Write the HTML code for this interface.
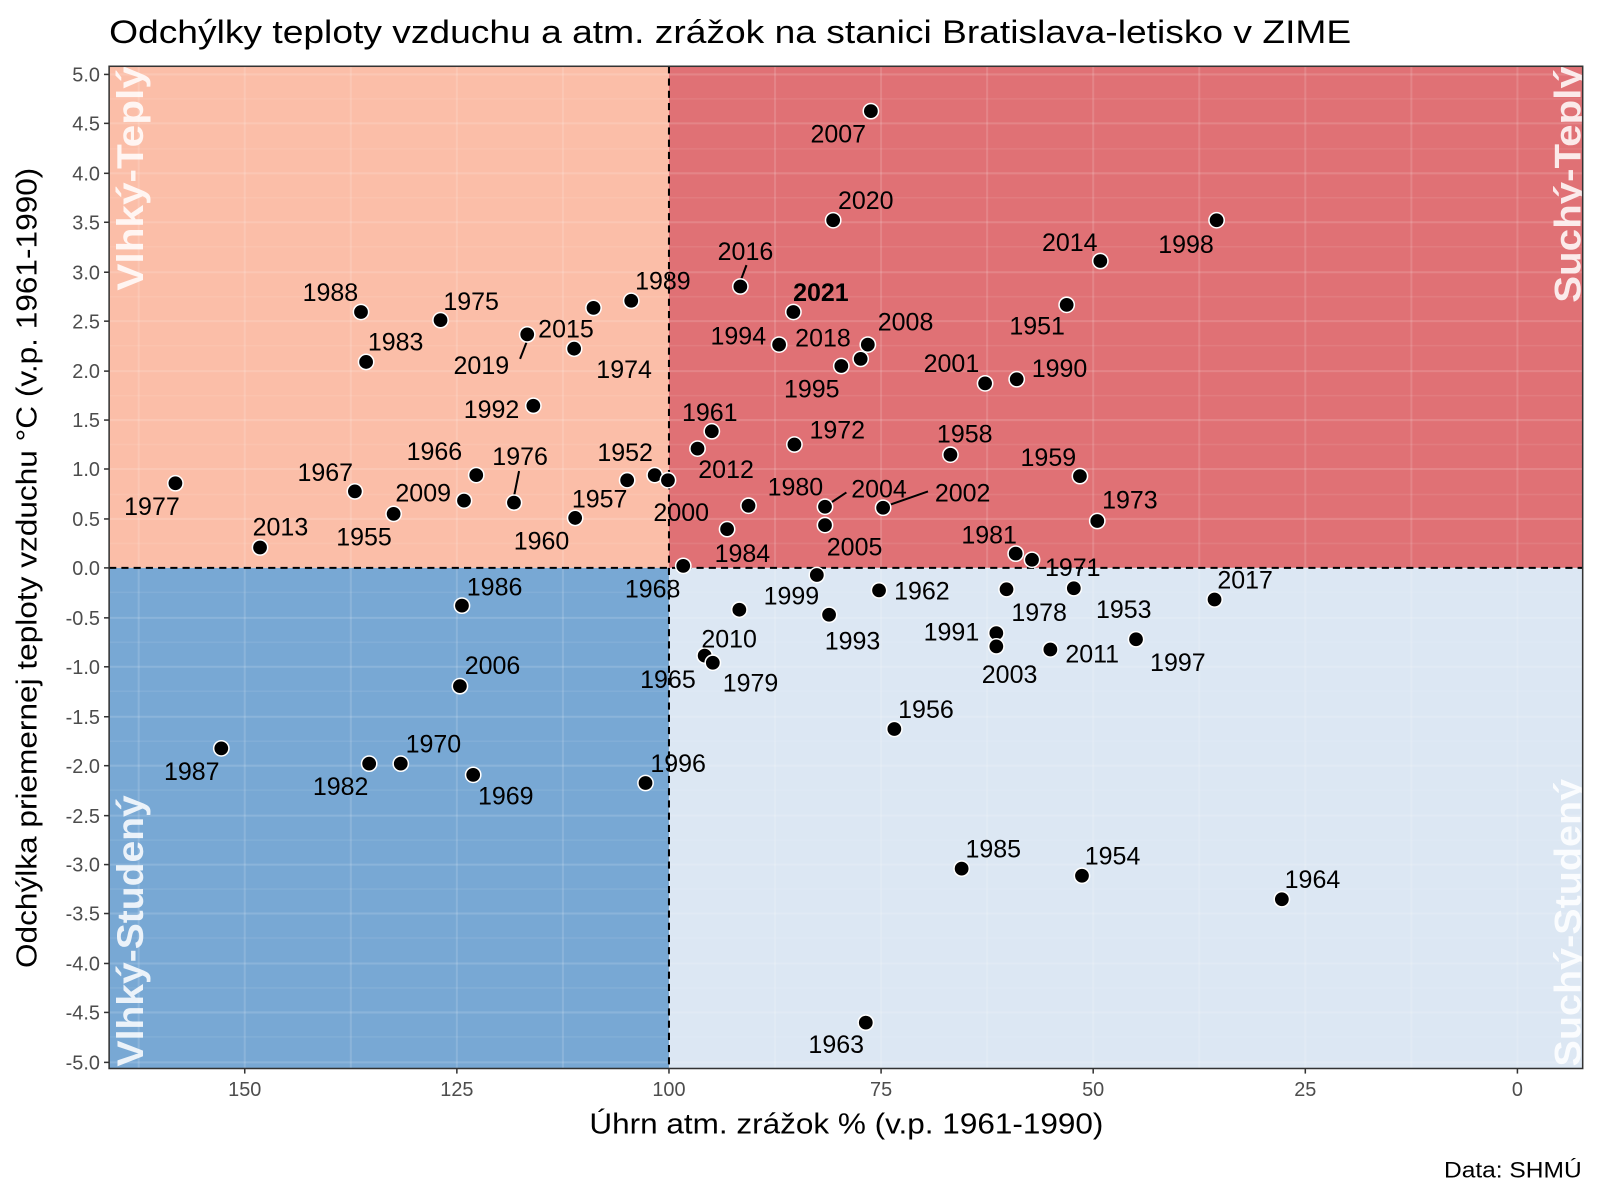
<!DOCTYPE html>
<html><head><meta charset="utf-8"><style>
html,body{margin:0;padding:0;background:#fff;}
svg{display:block;font-family:"Liberation Sans",Arial,sans-serif;}
</style></head><body>
<svg width="1599" height="1199" viewBox="0 0 1568 1176" preserveAspectRatio="none" xmlns="http://www.w3.org/2000/svg">
<rect width="1568" height="1176" fill="#fff"/>
<text x="107" y="42" font-size="31.5" fill="#000" textLength="1218" lengthAdjust="spacingAndGlyphs">Odchýlky teploty vzduchu a atm. zrážok na stanici Bratislava-letisko v ZIME</text>
<rect x="107" y="65" width="549" height="492" fill="#fbbea8"/>
<rect x="656" y="65" width="896" height="492" fill="#e07175"/>
<rect x="107" y="557" width="549" height="491" fill="#78a8d4"/>
<rect x="656" y="557" width="896" height="491" fill="#dce7f3"/>
<g stroke="#fff" stroke-opacity="0.08" stroke-width="1.5">
<line x1="107" x2="1552" y1="97" y2="97"/><line x1="107" x2="1552" y1="146" y2="146"/><line x1="107" x2="1552" y1="194" y2="194"/><line x1="107" x2="1552" y1="242" y2="242"/><line x1="107" x2="1552" y1="291" y2="291"/><line x1="107" x2="1552" y1="339" y2="339"/><line x1="107" x2="1552" y1="388" y2="388"/><line x1="107" x2="1552" y1="436" y2="436"/><line x1="107" x2="1552" y1="485" y2="485"/><line x1="107" x2="1552" y1="533" y2="533"/><line x1="107" x2="1552" y1="581" y2="581"/><line x1="107" x2="1552" y1="630" y2="630"/><line x1="107" x2="1552" y1="678" y2="678"/><line x1="107" x2="1552" y1="727" y2="727"/><line x1="107" x2="1552" y1="775" y2="775"/><line x1="107" x2="1552" y1="824" y2="824"/><line x1="107" x2="1552" y1="872" y2="872"/><line x1="107" x2="1552" y1="920" y2="920"/><line x1="107" x2="1552" y1="969" y2="969"/><line x1="107" x2="1552" y1="1017" y2="1017"/>
</g>
<g stroke="#fff" stroke-opacity="0.14" stroke-width="2">
<line x1="107" x2="1552" y1="73" y2="73"/><line x1="107" x2="1552" y1="121" y2="121"/><line x1="107" x2="1552" y1="170" y2="170"/><line x1="107" x2="1552" y1="218" y2="218"/><line x1="107" x2="1552" y1="267" y2="267"/><line x1="107" x2="1552" y1="315" y2="315"/><line x1="107" x2="1552" y1="364" y2="364"/><line x1="107" x2="1552" y1="412" y2="412"/><line x1="107" x2="1552" y1="460" y2="460"/><line x1="107" x2="1552" y1="509" y2="509"/><line x1="107" x2="1552" y1="606" y2="606"/><line x1="107" x2="1552" y1="654" y2="654"/><line x1="107" x2="1552" y1="703" y2="703"/><line x1="107" x2="1552" y1="751" y2="751"/><line x1="107" x2="1552" y1="800" y2="800"/><line x1="107" x2="1552" y1="848" y2="848"/><line x1="107" x2="1552" y1="896" y2="896"/><line x1="107" x2="1552" y1="945" y2="945"/><line x1="107" x2="1552" y1="993" y2="993"/><line x1="107" x2="1552" y1="1042" y2="1042"/>
<line y1="65" y2="1048" x1="240" x2="240"/><line y1="65" y2="1048" x1="448" x2="448"/><line y1="65" y2="1048" x1="864" x2="864"/><line y1="65" y2="1048" x1="1072" x2="1072"/><line y1="65" y2="1048" x1="1280" x2="1280"/><line y1="65" y2="1048" x1="1488" x2="1488"/>
<line y1="65" y2="1048" x1="136" x2="136"/><line y1="65" y2="1048" x1="344" x2="344"/><line y1="65" y2="1048" x1="552" x2="552"/><line y1="65" y2="1048" x1="760" x2="760"/><line y1="65" y2="1048" x1="968" x2="968"/><line y1="65" y2="1048" x1="1176" x2="1176"/><line y1="65" y2="1048" x1="1384" x2="1384"/>
</g>
<g fill="#fff" fill-opacity="0.85" font-weight="bold" font-size="36">
<text transform="translate(140,285) rotate(-90)" textLength="220" lengthAdjust="spacingAndGlyphs">Vlhký-Teplý</text>
<text transform="translate(1550,297) rotate(-90)" textLength="232" lengthAdjust="spacingAndGlyphs">Suchý-Teplý</text>
<text transform="translate(140,1046) rotate(-90)" textLength="266" lengthAdjust="spacingAndGlyphs">Vlhký-Studený</text>
<text transform="translate(1550,1046) rotate(-90)" textLength="282" lengthAdjust="spacingAndGlyphs">Suchý-Studený</text>
</g>
<g stroke="#000" stroke-width="2" stroke-dasharray="7,5">
<line x1="656" x2="656" y1="65" y2="1048"/><line x1="107" x2="1552" y1="557" y2="557"/>
</g>
<rect x="107" y="65" width="1445" height="983" fill="none" stroke="#333" stroke-width="1.5"/>
<g stroke="#000" stroke-width="2">
<line x1="726" y1="276" x2="732" y2="260"/><line x1="510" y1="352" x2="517" y2="334"/><line x1="504" y1="487" x2="509" y2="462"/><line x1="815" y1="493" x2="830" y2="483"/><line x1="870" y1="496" x2="910" y2="482"/>
</g>
<g fill="#000" stroke="#fff" stroke-width="1.5">
<circle cx="854" cy="109" r="7.5"/><circle cx="817" cy="216" r="7.5"/><circle cx="1079" cy="256" r="7.5"/><circle cx="1193" cy="216" r="7.5"/><circle cx="726" cy="281" r="7.5"/><circle cx="778" cy="306" r="7.5"/><circle cx="619" cy="295" r="7.5"/><circle cx="582" cy="302" r="7.5"/><circle cx="563" cy="342" r="7.5"/><circle cx="354" cy="306" r="7.5"/><circle cx="432" cy="314" r="7.5"/><circle cx="517" cy="328" r="7.5"/><circle cx="359" cy="355" r="7.5"/><circle cx="1046" cy="299" r="7.5"/><circle cx="851" cy="338" r="7.5"/><circle cx="764" cy="338" r="7.5"/><circle cx="844" cy="352" r="7.5"/><circle cx="825" cy="359" r="7.5"/><circle cx="966" cy="376" r="7.5"/><circle cx="997" cy="372" r="7.5"/><circle cx="523" cy="398" r="7.5"/><circle cx="698" cy="423" r="7.5"/><circle cx="684" cy="440" r="7.5"/><circle cx="779" cy="436" r="7.5"/><circle cx="932" cy="446" r="7.5"/><circle cx="1059" cy="467" r="7.5"/><circle cx="467" cy="466" r="7.5"/><circle cx="504" cy="493" r="7.5"/><circle cx="348" cy="482" r="7.5"/><circle cx="615" cy="471" r="7.5"/><circle cx="642" cy="466" r="7.5"/><circle cx="655" cy="471" r="7.5"/><circle cx="455" cy="491" r="7.5"/><circle cx="386" cy="504" r="7.5"/><circle cx="564" cy="508" r="7.5"/><circle cx="172" cy="474" r="7.5"/><circle cx="255" cy="537" r="7.5"/><circle cx="809" cy="497" r="7.5"/><circle cx="809" cy="515" r="7.5"/><circle cx="866" cy="498" r="7.5"/><circle cx="734" cy="496" r="7.5"/><circle cx="713" cy="519" r="7.5"/><circle cx="1076" cy="511" r="7.5"/><circle cx="996" cy="543" r="7.5"/><circle cx="1012" cy="549" r="7.5"/><circle cx="670" cy="555" r="7.5"/><circle cx="801" cy="564" r="7.5"/><circle cx="862" cy="579" r="7.5"/><circle cx="987" cy="578" r="7.5"/><circle cx="1191" cy="588" r="7.5"/><circle cx="1053" cy="577" r="7.5"/><circle cx="453" cy="594" r="7.5"/><circle cx="725" cy="598" r="7.5"/><circle cx="813" cy="603" r="7.5"/><circle cx="977" cy="621" r="7.5"/><circle cx="977" cy="634" r="7.5"/><circle cx="1030" cy="637" r="7.5"/><circle cx="1114" cy="627" r="7.5"/><circle cx="691" cy="643" r="7.5"/><circle cx="699" cy="650" r="7.5"/><circle cx="451" cy="673" r="7.5"/><circle cx="877" cy="715" r="7.5"/><circle cx="217" cy="734" r="7.5"/><circle cx="393" cy="749" r="7.5"/><circle cx="362" cy="749" r="7.5"/><circle cx="464" cy="760" r="7.5"/><circle cx="633" cy="768" r="7.5"/><circle cx="943" cy="852" r="7.5"/><circle cx="1061" cy="859" r="7.5"/><circle cx="1257" cy="882" r="7.5"/><circle cx="849" cy="1003" r="7.5"/>
</g>
<g font-size="24.5" fill="#000" text-anchor="middle">
<text x="822" y="140">2007</text><text x="849" y="205">2020</text><text x="1049" y="246">2014</text><text x="1163" y="248">1998</text><text x="731" y="255">2016</text><text x="805" y="295" font-weight="bold">2021</text><text x="650" y="284">1989</text><text x="324" y="295">1988</text><text x="462" y="304">1975</text><text x="555" y="331">2015</text><text x="472" y="367">2019</text><text x="612" y="371">1974</text><text x="388" y="344">1983</text><text x="1017" y="328">1951</text><text x="888" y="324">2008</text><text x="724" y="338">1994</text><text x="807" y="340">2018</text><text x="796" y="390">1995</text><text x="933" y="365">2001</text><text x="1039" y="370">1990</text><text x="482" y="410">1992</text><text x="696" y="413">1961</text><text x="821" y="430">1972</text><text x="946" y="434">1958</text><text x="1028" y="457">1959</text><text x="426" y="451">1966</text><text x="510" y="456">1976</text><text x="319" y="472">1967</text><text x="613" y="452">1952</text><text x="712" y="469">2012</text><text x="415" y="492">2009</text><text x="357" y="535">1955</text><text x="588" y="498">1957</text><text x="531" y="539">1960</text><text x="149" y="505">1977</text><text x="275" y="525">2013</text><text x="780" y="486">1980</text><text x="862" y="488">2004</text><text x="944" y="492">2002</text><text x="668" y="511">2000</text><text x="728" y="551">1984</text><text x="1108" y="499">1973</text><text x="970" y="533">1981</text><text x="1052" y="565">1971</text><text x="838" y="545">2005</text><text x="640" y="586">1968</text><text x="776" y="593">1999</text><text x="904" y="588">1962</text><text x="1019" y="609">1978</text><text x="1221" y="577">2017</text><text x="1102" y="606">1953</text><text x="485" y="584">1986</text><text x="836" y="637">1993</text><text x="933" y="628">1991</text><text x="990" y="670">2003</text><text x="1071" y="650">2011</text><text x="1155" y="658">1997</text><text x="715" y="635">2010</text><text x="655" y="675">1965</text><text x="736" y="678">1979</text><text x="483" y="661">2006</text><text x="908" y="704">1956</text><text x="188" y="765">1987</text><text x="425" y="738">1970</text><text x="334" y="780">1982</text><text x="496" y="789">1969</text><text x="665" y="757">1996</text><text x="974" y="841">1985</text><text x="1091" y="848">1954</text><text x="1287" y="871">1964</text><text x="820" y="1033">1963</text>
</g>
<g stroke="#333" stroke-width="1.5">
<line x1="102" x2="107" y1="73" y2="73"/><line x1="102" x2="107" y1="121" y2="121"/><line x1="102" x2="107" y1="170" y2="170"/><line x1="102" x2="107" y1="218" y2="218"/><line x1="102" x2="107" y1="267" y2="267"/><line x1="102" x2="107" y1="315" y2="315"/><line x1="102" x2="107" y1="364" y2="364"/><line x1="102" x2="107" y1="412" y2="412"/><line x1="102" x2="107" y1="460" y2="460"/><line x1="102" x2="107" y1="509" y2="509"/><line x1="102" x2="107" y1="557" y2="557"/><line x1="102" x2="107" y1="606" y2="606"/><line x1="102" x2="107" y1="654" y2="654"/><line x1="102" x2="107" y1="703" y2="703"/><line x1="102" x2="107" y1="751" y2="751"/><line x1="102" x2="107" y1="800" y2="800"/><line x1="102" x2="107" y1="848" y2="848"/><line x1="102" x2="107" y1="896" y2="896"/><line x1="102" x2="107" y1="945" y2="945"/><line x1="102" x2="107" y1="993" y2="993"/><line x1="102" x2="107" y1="1042" y2="1042"/>
<line y1="1048" y2="1053" x1="240" x2="240"/><line y1="1048" y2="1053" x1="448" x2="448"/><line y1="1048" y2="1053" x1="656" x2="656"/><line y1="1048" y2="1053" x1="864" x2="864"/><line y1="1048" y2="1053" x1="1072" x2="1072"/><line y1="1048" y2="1053" x1="1280" x2="1280"/><line y1="1048" y2="1053" x1="1488" x2="1488"/>
</g>
<g font-size="19.5" fill="#4d4d4d" text-anchor="end">
<text x="98" y="80">5.0</text><text x="98" y="128">4.5</text><text x="98" y="177">4.0</text><text x="98" y="225">3.5</text><text x="98" y="274">3.0</text><text x="98" y="322">2.5</text><text x="98" y="371">2.0</text><text x="98" y="419">1.5</text><text x="98" y="467">1.0</text><text x="98" y="516">0.5</text><text x="98" y="564">0.0</text><text x="98" y="613">-0.5</text><text x="98" y="661">-1.0</text><text x="98" y="710">-1.5</text><text x="98" y="758">-2.0</text><text x="98" y="807">-2.5</text><text x="98" y="855">-3.0</text><text x="98" y="903">-3.5</text><text x="98" y="952">-4.0</text><text x="98" y="1000">-4.5</text><text x="98" y="1049">-5.0</text>
</g>
<g font-size="19.5" fill="#4d4d4d" text-anchor="middle">
<text x="240" y="1075">150</text><text x="448" y="1075">125</text><text x="656" y="1075">100</text><text x="864" y="1075">75</text><text x="1072" y="1075">50</text><text x="1280" y="1075">25</text><text x="1488" y="1075">0</text>
</g>
<text x="830" y="1112" font-size="28" text-anchor="middle" textLength="504" lengthAdjust="spacingAndGlyphs">Úhrn atm. zrážok % (v.p. 1961-1990)</text>
<text transform="translate(36,557) rotate(-90)" font-size="28" text-anchor="middle" textLength="785" lengthAdjust="spacingAndGlyphs">Odchýlka priemernej teploty vzduchu °C (v.p. 1961-1990)</text>
<text x="1551" y="1155" font-size="22" text-anchor="end" textLength="135" lengthAdjust="spacingAndGlyphs">Data: SHMÚ</text>
</svg>
</body></html>
